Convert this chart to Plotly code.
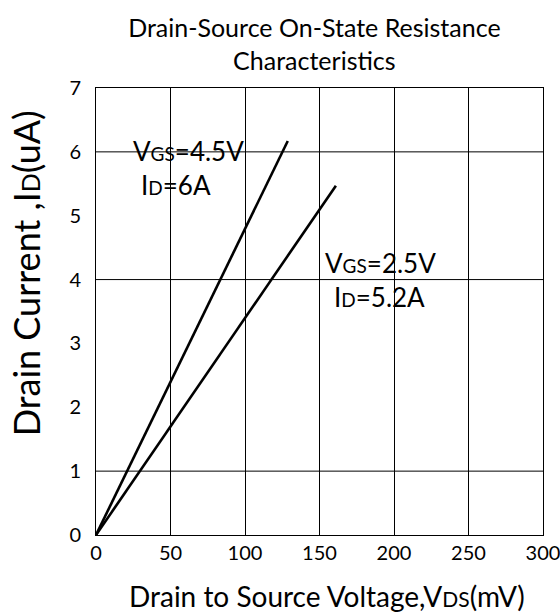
import plotly.graph_objects as go

# Data
vds_45 = [0, 128.7]
id_45 = [0, 6.17]
vds_25 = [0, 161]
id_25 = [0, 5.47]

x_ticks = [0, 50, 100, 150, 200, 250, 300]
y_ticks = [0, 1, 2, 3, 4, 5, 6, 7]
h_grid = [1, 4, 6]

FONT = "Lato"
SUB = "<span style='font-size:19px'>{}</span>"

fig = go.Figure()
fig.add_trace(go.Scatter(x=vds_45, y=id_45, mode="lines",
                         line=dict(color="black", width=2.6), showlegend=False))
fig.add_trace(go.Scatter(x=vds_25, y=id_25, mode="lines",
                         line=dict(color="black", width=2.6), showlegend=False))

for yv in h_grid:
    fig.add_shape(type="line", xref="x", yref="y", x0=0, x1=300, y0=yv, y1=yv,
                  line=dict(color="black", width=1), layer="below")

ann_font = dict(family=FONT, size=26, color="black")
anns = [
    (62, 6.01, "V" + SUB.format("GS") + "=4.5V"),
    (54, 5.48, "I" + SUB.format("D") + "=6A"),
    (191, 4.26, "V" + SUB.format("GS") + "=2.5V"),
    (190.5, 3.73, "I" + SUB.format("D") + "=5.2A"),
]
for x, y, t in anns:
    fig.add_annotation(x=x, y=y, xref="x", yref="y", text=t, showarrow=False,
                       font=ann_font, xanchor="center", yanchor="middle")

# axis titles (placed as in the reference)
fig.add_annotation(x=-0.156, y=0.586, xref="paper", yref="paper",
                   text="Drain Current ,I<span style='font-size:25px'>D</span>(uA)",
                   textangle=-90, showarrow=False, xanchor="center", yanchor="middle",
                   font=dict(family=FONT, size=36, color="black"))
fig.add_annotation(x=0.5157, y=-0.137, xref="paper", yref="paper",
                   text="Drain to Source Voltage,V<span style='font-size:21px'>DS</span>(mV)",
                   showarrow=False, xanchor="center", yanchor="middle",
                   font=dict(family=FONT, size=28, color="black"))

fig.update_layout(
    width=560, height=615,
    margin=dict(l=96, r=17, t=88, b=80, autoexpand=False),
    paper_bgcolor="white", plot_bgcolor="white",
    font=dict(family=FONT, color="black"),
    title=dict(text="Drain-Source On-State Resistance<br>Characteristics",
               x=0.5614, xanchor="center", y=0.9397, yanchor="middle",
               yref="container",
               font=dict(family=FONT, size=25, color="black")),
)
fig.update_xaxes(range=[0, 300], tickvals=x_ticks, showgrid=True,
                 gridcolor="black", gridwidth=1, zeroline=False,
                 showline=True, linecolor="black", linewidth=1, mirror=True,
                 ticks="", ticklabeloverflow="allow", automargin=False,
                 tickfont=dict(family=FONT, size=20, color="black"))
fig.update_yaxes(range=[0, 7], tickvals=y_ticks, showgrid=False, zeroline=False,
                 showline=True, linecolor="black", linewidth=1, mirror=True,
                 ticks="", ticklabelstandoff=10, automargin=False,
                 tickfont=dict(family=FONT, size=20, color="black"))

fig.write_html("out.html", config={"displayModeBar": False},
               post_script="document.body.style.margin='0';document.body.style.overflow='hidden';")
